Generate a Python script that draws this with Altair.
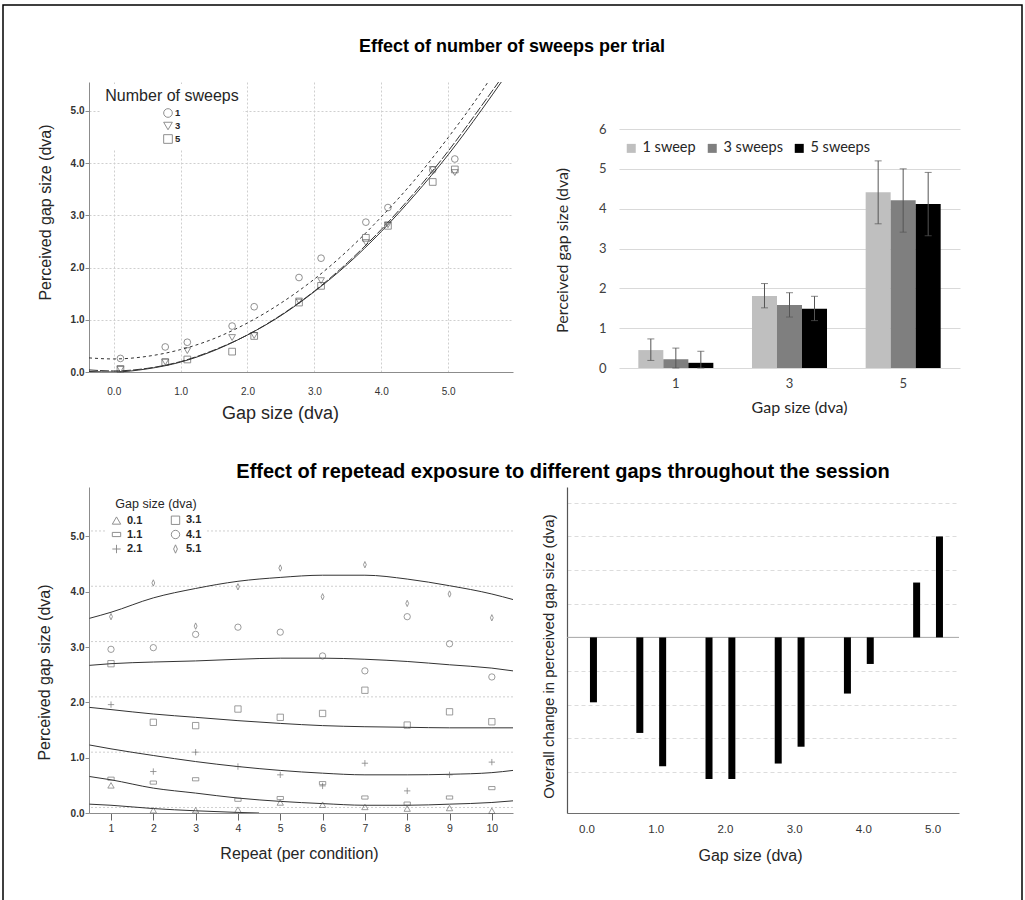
import altair as alt
import pandas as pd

SANS = "Liberation Sans, Arial, sans-serif"
CAL = "Lato, Open Sans, sans-serif"
INK = "#262626"

# ---------------- Panel A (top-left): perceived vs physical gap, by sweeps ----------------
gap_values = [0.1, 0.77, 1.1, 1.77, 2.1, 2.77, 3.1, 3.77, 4.1, 4.77, 5.1]
sweep_levels = ["1", "3", "5"]
perceived_1 = [0.26, 0.48, 0.57, 0.88, 1.25, 1.81, 2.18, 2.87, 3.15, 3.87, 4.08]
perceived_3 = [0.05, 0.19, 0.41, 0.66, 0.70, 1.36, 1.75, 2.48, 2.82, 3.88, 3.82]
perceived_5 = [0.06, 0.19, 0.24, 0.39, 0.69, 1.33, 1.65, 2.57, 2.80, 3.64, 3.88]

# fitted curves
fit1_x = [-0.37, 0.0, 0.5, 1.0, 1.5, 2.0, 2.5, 3.0, 3.5, 4.0, 4.5, 5.0, 5.5, 5.62]
fit1_y = [0.27, 0.25, 0.30, 0.43, 0.64, 0.94, 1.32, 1.78, 2.33, 2.97, 3.68, 4.49, 5.37, 5.60]
fit3_x = [-0.37, 0.0, 0.5, 1.0, 1.5, 2.0, 2.5, 3.0, 3.5, 4.0, 4.5, 5.0, 5.5, 5.78]
fit3_y = [0.04, 0.02, 0.07, 0.20, 0.42, 0.71, 1.09, 1.55, 2.10, 2.73, 3.44, 4.23, 5.10, 5.60]
fit5_x = [-0.37, 0.0, 0.5, 1.0, 1.5, 2.0, 2.5, 3.0, 3.5, 4.0, 4.5, 5.0, 5.5, 5.82]
fit5_y = [0.01, 0.00, 0.06, 0.19, 0.41, 0.71, 1.08, 1.54, 2.07, 2.69, 3.39, 4.16, 5.02, 5.60]

# ---------------- Panel B (top-right): bar chart ----------------
bar_gaps = ["1", "3", "5"]
bar_series = ["1 sweep", "3 sweeps", "5 sweeps"]
bar_colors = ["#bfbfbf", "#7f7f7f", "#000000"]
mean_1sweep = [0.45, 1.81, 4.41]
mean_3sweeps = [0.22, 1.58, 4.21]
mean_5sweeps = [0.13, 1.49, 4.12]
hi_1sweep = [0.73, 2.12, 5.20]
hi_3sweeps = [0.50, 1.89, 5.00]
hi_5sweeps = [0.42, 1.80, 4.91]
lo_1sweep = [0.19, 1.51, 3.62]
lo_3sweeps = [0.00, 1.28, 3.41]
lo_5sweeps = [0.00, 1.19, 3.32]

# ---------------- Panel C (bottom-left): repeats ----------------
repeats = [1, 2, 3, 4, 5, 6, 7, 8, 9, 10]
gap_levels = ["0.1", "1.1", "2.1", "3.1", "4.1", "5.1"]
gap_ref_lines = [0.1, 1.1, 2.1, 3.1, 4.1, 5.1]
rep_0_1 = [0.50, 0.05, 0.05, 0.06, 0.19, 0.15, 0.11, 0.08, 0.09, 0.04]
rep_1_1 = [0.62, 0.55, 0.61, 0.24, 0.27, 0.54, 0.28, 0.17, 0.28, 0.45]
rep_2_1 = [1.96, 0.75, 1.10, 0.84, 0.69, 0.49, 0.90, 0.40, 0.69, 0.92]
rep_3_1 = [2.70, 1.64, 1.58, 1.88, 1.73, 1.80, 2.22, 1.59, 1.83, 1.65]
rep_4_1 = [2.96, 2.99, 3.23, 3.36, 3.27, 2.84, 2.57, 3.55, 3.06, 2.46]
rep_5_1 = [3.55, 4.16, 3.38, 4.09, 4.43, 3.91, 4.49, 3.79, 3.96, 3.53]

curve_x = [0.49, 1, 2, 3, 4, 5, 6, 7, 8, 9, 10, 10.5]
curve_5_1 = [3.52, 3.63, 3.89, 4.06, 4.19, 4.26, 4.30, 4.30, 4.23, 4.11, 3.96, 3.86]
curve_4_1 = [2.67, 2.70, 2.73, 2.75, 2.78, 2.80, 2.80, 2.78, 2.74, 2.68, 2.62, 2.57]
curve_3_1 = [1.91, 1.87, 1.79, 1.73, 1.67, 1.62, 1.58, 1.56, 1.55, 1.54, 1.54, 1.54]
curve_2_1 = [1.23, 1.16, 1.04, 0.93, 0.84, 0.77, 0.72, 0.69, 0.69, 0.70, 0.73, 0.77]
curve_1_1 = [0.66, 0.60, 0.45, 0.36, 0.27, 0.21, 0.17, 0.14, 0.14, 0.16, 0.19, 0.22]
curve_0_1_x = [0.49, 1, 2, 3, 4, 4.5]
curve_0_1 = [0.16, 0.14, 0.08, 0.04, 0.01, 0.0]

# ---------------- Panel D (bottom-right): overall change ----------------
change_gaps = [0.1, 0.77, 1.1, 1.77, 2.1, 2.77, 3.1, 3.77, 4.1, 4.77, 5.1]
overall_change = [-0.193, -0.284, -0.383, -0.421, -0.421, -0.375, -0.325, -0.167, -0.079, 0.163, 0.300]

# =====================================================================
# Panel A
dfA = pd.DataFrame({
    "gap": gap_values * 3,
    "perceived": perceived_1 + perceived_3 + perceived_5,
    "sweeps": [s for s in sweep_levels for _ in gap_values],
})
scA_x = alt.Scale(domain=[-0.37, 5.97], nice=False, zero=False)
scA_y = alt.Scale(domain=[0, 5.555], nice=False, zero=False)
axA_x = alt.Axis(values=[0, 1, 2, 3, 4, 5], format=".1f", title="Gap size (dva)",
                 grid=True, gridDash=[2, 2], gridColor="#cfcfcf", ticks=False,
                 domainColor="#8c8c8c", labelFont=SANS, labelFontSize=10, labelColor="#333",
                 labelPadding=14, titleFont=SANS, titleFontSize=18, titleFontWeight="normal",
                 titleColor=INK, titleX=191, titleY=41, titleBaseline="middle")
axA_y = alt.Axis(values=[0, 1, 2, 3, 4, 5], format=".1f", title="Perceived gap size (dva)",
                 grid=True, gridDash=[2, 2], gridColor="#cfcfcf", ticks=True, tickSize=4,
                 tickColor="#8c8c8c", domainColor="#8c8c8c", labelFont=SANS, labelFontSize=10,
                 labelFontWeight="bold", labelColor="#333", labelPadding=1,
                 titleFont=SANS, titleFontSize=16, titleFontWeight="normal", titleColor=INK,
                 titleX=-44, titleY=130, titleBaseline="middle")
legA = alt.Legend(orient="none", legendX=12, legendY=2, padding=4, fillColor="white",
                  title="Number of sweeps", titleFont=SANS, titleFontSize=16,
                  titleFontWeight="normal", titleColor=INK, titleAnchor="middle", titlePadding=4,
                  labelFont=SANS, labelFontSize=9.5, labelFontWeight="bold", labelColor=INK,
                  labelOffset=2, symbolSize=75, symbolStrokeWidth=0.9, rowPadding=0)

ptsA = alt.Chart(dfA).mark_point(filled=False, size=45, strokeWidth=0.9, color="#505050").encode(
    x=alt.X("gap:Q", scale=scA_x, axis=axA_x),
    y=alt.Y("perceived:Q", scale=scA_y, axis=axA_y),
    shape=alt.Shape("sweeps:N", scale=alt.Scale(domain=sweep_levels,
                    range=["circle", "triangle-down", "square"]), legend=legA),
)


def fit_layer(xs, ys, dash=None):
    d = pd.DataFrame({"gap": xs, "perceived": ys})
    kw = dict(clip=True, color="#333333", strokeWidth=1, interpolate="monotone")
    if dash is not None:
        kw["strokeDash"] = dash
    return alt.Chart(d).mark_line(**kw).encode(
        x=alt.X("gap:Q", scale=scA_x), y=alt.Y("perceived:Q", scale=scA_y))


title1 = alt.TitleParams("Effect of number of sweeps per trial", anchor="middle", frame="group",
                         font=SANS, fontSize=18, fontWeight="bold", color="black", offset=26,
                         dx=211)
panelA = alt.layer(
    ptsA,
    fit_layer(fit1_x, fit1_y, [3, 3]),
    fit_layer(fit3_x, fit3_y, [9, 2]),
    fit_layer(fit5_x, fit5_y),
).properties(width=424, height=290, title=title1)

# =====================================================================
# Panel B (plot area starts where panel D starts; bars drawn from x = 52 px)
rowsB = []
for name, means, his, los in [
    (bar_series[0], mean_1sweep, hi_1sweep, lo_1sweep),
    (bar_series[1], mean_3sweeps, hi_3sweeps, lo_3sweeps),
    (bar_series[2], mean_5sweeps, hi_5sweeps, lo_5sweeps),
]:
    for g, m, h, l in zip(bar_gaps, means, his, los):
        rowsB.append({"gap": g, "sweeps": name, "mean": m, "hi": h, "lo": l})
dfB = pd.DataFrame(rowsB)

scB_x = alt.Scale(paddingInner=0.34, paddingOuter=0.17, range=[52, 393])
xB = alt.X("gap:N", sort=bar_gaps, scale=scB_x,
           axis=alt.Axis(title="Gap size (dva)", labelAngle=0, ticks=False, domain=False,
                         labelFont=CAL, labelFontSize=13, labelColor="#404040", labelPadding=9,
                         titleFont=CAL, titleFontSize=16, titleFontWeight="normal",
                         titleColor=INK, titleX=232, titleY=39, titleBaseline="middle"))
xoB = alt.XOffset("sweeps:N", sort=bar_series, scale=alt.Scale(paddingInner=0, paddingOuter=0))
scB_y = alt.Scale(domain=[0, 7.18], nice=False, zero=False)
yB = alt.Y("mean:Q", scale=scB_y,
           axis=alt.Axis(values=[0, 1, 2, 3, 4, 5, 6], title="Perceived gap size (dva)", grid=True,
                         gridColor="#d9d9d9", domain=False, ticks=False, offset=-52,
                         labelFont=CAL, labelFontSize=13, labelColor="#404040", labelPadding=13,
                         titleFont=CAL, titleFontSize=16, titleFontWeight="normal",
                         titleColor=INK, titleX=-57, titleY=168, titleBaseline="middle"))
legB = alt.Legend(orient="none", legendX=57, legendY=59, direction="horizontal", title=None,
                  symbolType="square", symbolSize=81, symbolStrokeWidth=0, labelFont=CAL,
                  labelFontSize=14.5, labelColor=INK, labelOffset=4, columnPadding=9)

# outer frame of the whole figure (decoration, pixel positioned relative to this panel)
frame = alt.Chart(pd.DataFrame({"k": [0]})).mark_rect(
    fill="transparent", stroke="black", strokeWidth=1.5
).encode(x=alt.value(-564), x2=alt.value(455), y=alt.value(-77), y2=alt.value(840))

barsB = alt.Chart(dfB).mark_bar().encode(
    x=xB, xOffset=xoB, y=yB,
    color=alt.Color("sweeps:N", scale=alt.Scale(domain=bar_series, range=bar_colors), legend=legB),
)
errB = alt.Chart(dfB).mark_rule(color="#555555", strokeWidth=1).encode(
    x=alt.X("gap:N", sort=bar_gaps, scale=scB_x), xOffset=alt.XOffset("sweeps:N", sort=bar_series),
    y=alt.Y("lo:Q", scale=scB_y), y2="hi:Q")
capHiB = alt.Chart(dfB).mark_tick(color="#555555", thickness=1, size=7).encode(
    x=alt.X("gap:N", sort=bar_gaps, scale=scB_x), xOffset=alt.XOffset("sweeps:N", sort=bar_series),
    y=alt.Y("hi:Q", scale=scB_y))
capLoB = alt.Chart(dfB).mark_tick(color="#555555", thickness=1, size=7).encode(
    x=alt.X("gap:N", sort=bar_gaps, scale=scB_x), xOffset=alt.XOffset("sweeps:N", sort=bar_series),
    y=alt.Y("lo:Q", scale=scB_y))
panelB = alt.layer(frame, barsB, errB, capHiB, capLoB).properties(width=393, height=286)

# =====================================================================
# Panel C
rep_series = [rep_0_1, rep_1_1, rep_2_1, rep_3_1, rep_4_1, rep_5_1]
dfC = pd.DataFrame({
    "repeat": repeats * 6,
    "perceived": sum(rep_series, []),
    "gap": [g for g in gap_levels for _ in repeats],
})
curve_series = [
    ("0.1", curve_0_1_x, curve_0_1), ("1.1", curve_x, curve_1_1), ("2.1", curve_x, curve_2_1),
    ("3.1", curve_x, curve_3_1), ("4.1", curve_x, curve_4_1), ("5.1", curve_x, curve_5_1),
]
dfC_curves = pd.DataFrame({
    "repeat": sum([c[1] for c in curve_series], []),
    "perceived": sum([c[2] for c in curve_series], []),
    "gap": sum([[c[0]] * len(c[1]) for c in curve_series], []),
})
dfC_ref = pd.DataFrame({"ref": gap_ref_lines})

scC_x = alt.Scale(domain=[0.48, 10.5], nice=False, zero=False)
scC_y = alt.Scale(domain=[0, 5.895], nice=False, zero=False)
axC_x = alt.Axis(values=repeats, title="Repeat (per condition)", grid=False, ticks=True, tickSize=7,
                 tickColor="#666666", domainColor="#8c8c8c", labelFont=SANS, labelFontSize=10.5,
                 labelColor="#333", labelPadding=3, titleFont=SANS, titleFontSize=16,
                 titleFontWeight="normal", titleColor=INK, titleX=210, titleY=40,
                 titleBaseline="middle")
axC_y = alt.Axis(values=[0, 1, 2, 3, 4, 5], format=".1f", title="Perceived gap size (dva)",
                 grid=False, ticks=True, tickSize=4, tickColor="#8c8c8c", domainColor="#8c8c8c",
                 labelFont=SANS, labelFontSize=10, labelFontWeight="bold", labelColor="#333",
                 labelPadding=1, titleFont=SANS, titleFontSize=16, titleFontWeight="normal",
                 titleColor=INK, titleX=-45, titleY=185, titleBaseline="middle")

shape_paths = ["triangle-up", "M-1,-0.5H1V0.5H-1Z", "M-1,0H1M0,-1V1", "square", "circle",
               "M0,-1L0.45,0L0,1L-0.45,0Z"]
legC = alt.Legend(orient="none", legendX=18, legendY=7, columns=2, padding=4, fillColor="white",
                  title="Gap size (dva)", titleFont=SANS, titleFontSize=12.5,
                  titleFontWeight="normal", titleColor=INK, titleAnchor="middle", titlePadding=4,
                  labelFont=SANS, labelFontSize=11, labelFontWeight="bold", labelColor=INK,
                  labelOffset=5, symbolSize=70, symbolStrokeWidth=0.9, rowPadding=1.5,
                  columnPadding=26)

refC = alt.Chart(dfC_ref).mark_rule(color="#cfcfcf", strokeDash=[2, 2], strokeWidth=1).encode(
    y=alt.Y("ref:Q", scale=scC_y))
ptsC = alt.Chart(dfC).mark_point(filled=False, size=40, strokeWidth=0.8, color="#505050").encode(
    x=alt.X("repeat:Q", scale=scC_x, axis=axC_x),
    y=alt.Y("perceived:Q", scale=scC_y, axis=axC_y),
    shape=alt.Shape("gap:N", scale=alt.Scale(domain=gap_levels, range=shape_paths), legend=legC),
)
curvesC = alt.Chart(dfC_curves).mark_line(clip=True, color="#333333", strokeWidth=1,
                                          interpolate="monotone").encode(
    x=alt.X("repeat:Q", scale=scC_x), y=alt.Y("perceived:Q", scale=scC_y), detail="gap:N")
title2 = alt.TitleParams("Effect of repetead exposure to different gaps throughout the session",
                         anchor="middle", frame="group", font=SANS, fontSize=20,
                         fontWeight="bold", color="black", offset=5, dx=262)
panelC = alt.layer(refC, curvesC, ptsC).properties(width=424, height=326, title=title2)

# =====================================================================
# Panel D
dfD = pd.DataFrame({"gap": change_gaps, "change": overall_change})
scD_x = alt.Scale(domain=[-0.21, 5.31], nice=False, zero=False)
scD_y = alt.Scale(domain=[-0.522, 0.447], nice=False, zero=False)
axD_x = alt.Axis(values=[0, 1, 2, 3, 4, 5], format=".1f", title="Gap size (dva)", grid=False,
                 ticks=False, domainColor="#6e6e6e", labelFont=SANS, labelFontSize=11.5,
                 labelColor="#333", labelPadding=10, titleFont=SANS, titleFontSize=16,
                 titleFontWeight="normal", titleColor=INK, titleX=183, titleY=42,
                 titleBaseline="middle")
axD_y = alt.Axis(values=[-0.4, -0.3, -0.2, -0.1, 0.1, 0.2, 0.3, 0.4], labels=False, ticks=False,
                 grid=True, gridDash=[4, 3], gridColor="#dcdcdc", domainColor="#555555",
                 domainWidth=1.2,
                 title="Overall change in perceived gap size (dva)", titleFont=SANS,
                 titleFontSize=15, titleFontWeight="normal", titleColor=INK, titleX=-19,
                 titleY=169, titleBaseline="middle")
zeroD = alt.Chart(pd.DataFrame({"z": [0.0]})).mark_rule(color="#a6a6a6", strokeWidth=1).encode(
    y=alt.Y("z:Q", scale=scD_y))
barsD = alt.Chart(dfD).mark_bar(size=7, color="black").encode(
    x=alt.X("gap:Q", scale=scD_x, axis=axD_x),
    y=alt.Y("change:Q", scale=scD_y, axis=axD_y),
    y2=alt.datum(0),
)
panelD = alt.layer(zeroD, barsD).properties(width=392, height=326)

# =====================================================================
chart = alt.concat(
    panelA, panelB, panelC, panelD, columns=2, bounds="flush",
    spacing={"row": 115, "column": 54},
).resolve_scale(
    shape="independent", color="independent"
).properties(
    padding={"left": 2, "top": 4, "right": 0, "bottom": 0}
).configure(background="white").configure_view(stroke="transparent", strokeWidth=0)

chart.save("out.html", embed_options={"renderer": "svg", "actions": False})
